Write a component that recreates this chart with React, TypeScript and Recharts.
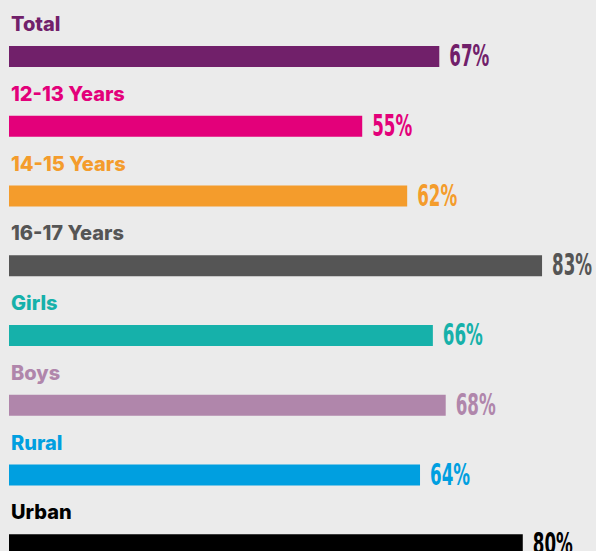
import React from "react";
import { BarChart, Bar, XAxis, YAxis, Cell, LabelList } from "recharts";

const categories = ["Total", "12-13 Years", "14-15 Years", "16-17 Years", "Girls", "Boys", "Rural", "Urban"];
const values = [67, 55, 62, 83, 66, 68, 64, 80];
const barColors = ["#71206a", "#e3007a", "#f49c2c", "#555555", "#16b1aa", "#b086ab", "#009fe0", "#000000"];
const textColors = ["#71206a", "#e3007a", "#f49c2c", "#555555", "#16b1aa", "#b086ab", "#009fe0", "#000000"];

const data = categories.map((name, i) => ({ name, value: values[i] }));

const NameLabel = (props: any) => {
  const { x, y, height, index, value } = props;
  return (
    <text
      x={Number(x) + 2}
      y={Number(y) + Number(height) / 2 - 25.5}
      fill={textColors[index]}
      fontFamily="Inter, sans-serif"
      fontWeight={800}
      fontSize={20}
    >
      {value}
    </text>
  );
};

const ValueLabel = (props: any) => {
  const { x, y, width, height, index, value } = props;
  return (
    <text
      x={Number(x) + Number(width) + 10}
      y={Number(y) + Number(height) / 2 + 9.5}
      fill={textColors[index]}
      fontFamily="'DejaVu Sans Condensed', 'DejaVu Sans', sans-serif"
      fontWeight={700}
      fontSize={30}
      textLength={40}
      lengthAdjust="spacingAndGlyphs"
    >
      {`${value}%`}
    </text>
  );
};

export default function App() {
  return (
    <div
      style={{
        position: "fixed",
        left: 0,
        top: 0,
        width: 596,
        height: 551,
        overflow: "hidden",
        background: "#ebebeb",
      }}
    >
      <BarChart
        width={596}
        height={600}
        data={data}
        layout="vertical"
        margin={{ top: 22, right: 9, bottom: 20, left: 9 }}
      >
        <XAxis type="number" domain={[0, 90]} hide />
        <YAxis type="category" dataKey="name" hide />
        <Bar dataKey="value" barSize={21} isAnimationActive={false}>
          {data.map((d, i) => (
            <Cell key={d.name} fill={barColors[i]} />
          ))}
          <LabelList dataKey="name" content={NameLabel} />
          <LabelList dataKey="value" content={ValueLabel} />
        </Bar>
      </BarChart>
    </div>
  );
}
